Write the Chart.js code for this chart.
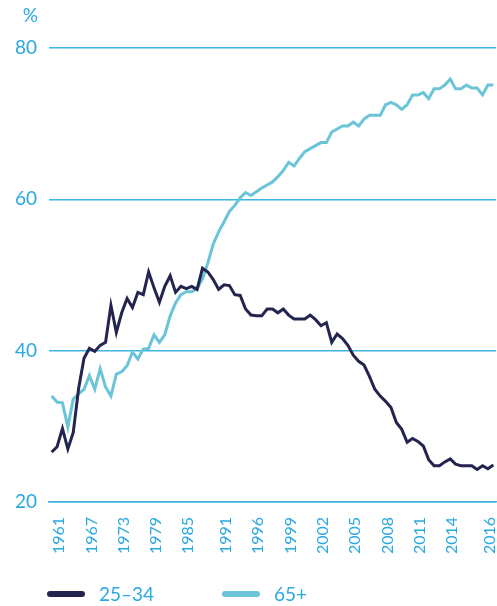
<!DOCTYPE html>
<html>
<head>
<meta charset="utf-8">
<script src="https://cdn.jsdelivr.net/npm/chart.js@4.4.0/dist/chart.umd.min.js"></script>
<style>
  html, body { margin: 0; padding: 0; background: #fff; }
  #wrap { position: relative; width: 497px; height: 606px; }
  #legend {
    position: absolute;
    left: 47px;
    top: 582px;
    display: flex;
    font-family: Lato, "Open Sans", sans-serif;
    font-size: 19px;
    line-height: 24px;
    color: #2aa9e0;
  }
  .legend-item { display: flex; align-items: center; width: 175px; }
  .swatch { width: 38px; height: 6px; border-radius: 3px; margin-right: 14px; }
</style>
</head>
<body>
<div id="wrap">
  <canvas id="chart" width="497" height="606"></canvas>
  <div id="legend"></div>
</div>
<script>
const TEXT_BLUE = "#2aa9e0";
const GRID_BLUE = "#3cb4e4";
const FONT = "Lato, 'Open Sans', sans-serif";

const xLabels = [
  "", "1961", "", "", "", "", "",
  "1967", "", "", "", "", "",
  "1973", "", "", "", "", "",
  "1979", "", "", "", "", "",
  "1985", "", "", "", "", "", "",
  "1991", "", "", "", "", "",
  "1996", "", "", "", "", "",
  "1999", "", "", "", "", "",
  "2002", "", "", "", "", "",
  "2005", "", "", "", "", "",
  "2008", "", "", "", "", "",
  "2011", "", "", "", "", "",
  "2014", "", "", "", "", "", "",
  "2016", "",
];

const yTicks = [20, 40, 60, 80];

const age25to34 = [
  26.6, 27.3, 29.7, 27.0, 29.2, 35.0, 39.0, 40.3, 39.9, 40.7,
  41.1, 46.0, 42.4, 45.0, 46.9, 45.7, 47.7, 47.4, 50.4, 48.3,
  46.4, 48.5, 49.9, 47.7, 48.5, 48.2, 48.5, 48.1, 50.9, 50.4,
  49.4, 48.1, 48.7, 48.6, 47.4, 47.3, 45.5, 44.7, 44.6, 44.6,
  45.5, 45.5, 45.0, 45.5, 44.7, 44.2, 44.2, 44.2, 44.7, 44.1,
  43.3, 43.7, 41.1, 42.2, 41.6, 40.7, 39.4, 38.6, 38.1, 36.6,
  34.9, 34.0, 33.3, 32.5, 30.5, 29.6, 27.9, 28.4, 28.0, 27.4,
  25.6, 24.8, 24.8, 25.3, 25.7, 25.0, 24.8, 24.8, 24.8, 24.3,
  24.8, 24.4, 24.9,
];

const age65plus = [
  34.0, 33.2, 33.1, 29.9, 33.6, 34.3, 34.9, 36.7, 34.9, 37.6,
  35.2, 34.0, 36.9, 37.2, 38.0, 39.8, 38.9, 40.2, 40.3, 42.1,
  41.1, 42.1, 44.6, 46.3, 47.4, 47.8, 47.8, 48.2, 49.5, 51.6,
  54.1, 55.7, 57.0, 58.4, 59.2, 60.2, 60.9, 60.5, 61.0, 61.5,
  61.9, 62.3, 63.0, 63.8, 64.9, 64.4, 65.4, 66.3, 66.7, 67.1,
  67.5, 67.5, 68.9, 69.3, 69.7, 69.7, 70.2, 69.7, 70.6, 71.1,
  71.1, 71.1, 72.5, 72.8, 72.5, 71.9, 72.5, 73.8, 73.8, 74.1,
  73.3, 74.6, 74.6, 75.1, 75.9, 74.6, 74.6, 75.1, 74.7, 74.7,
  73.8, 75.1, 75.1,
];

const series = [
  { label: "25\u201334", data: age25to34, color: "#23244f" },
  { label: "65+", data: age65plus, color: "#6bc4d7" },
];

// "%" unit sitting above the y tick labels
const unitLabel = {
  id: "unitLabel",
  afterDraw(chart) {
    const { ctx, scales } = chart;
    const y = scales.y;
    ctx.save();
    ctx.font = `19px ${FONT}`;
    ctx.fillStyle = TEXT_BLUE;
    ctx.textAlign = "right";
    ctx.textBaseline = "middle";
    ctx.fillText("%", y.right - 11, 16);
    ctx.restore();
  },
};

new Chart(document.getElementById("chart"), {
  type: "line",
  data: {
    labels: xLabels,
    datasets: series.map((s) => ({
      label: s.label,
      data: s.data,
      borderColor: s.color,
      backgroundColor: s.color,
      borderWidth: 3,
      pointRadius: 0,
      tension: 0,
      fill: false,
    })),
  },
  options: {
    responsive: false,
    animation: false,
    devicePixelRatio: 1,
    layout: { padding: { left: 15, right: 1, top: 48, bottom: 44 } },
    plugins: {
      legend: { display: false },
      tooltip: { enabled: false },
    },
    scales: {
      x: {
        offset: true,
        grid: { display: false },
        border: { display: true, color: GRID_BLUE, width: 1.5 },
        ticks: {
          autoSkip: false,
          minRotation: 90,
          maxRotation: 90,
          padding: 7,
          labelOffset: 2,
          color: TEXT_BLUE,
          font: { family: FONT, size: 16 },
        },
        afterFit(scale) {
          scale.height = 60;
          scale.paddingLeft = 0;
          scale.paddingRight = 0;
        },
      },
      y: {
        min: 20,
        max: 80,
        afterBuildTicks(scale) {
          scale.ticks = yTicks.map((v) => ({ value: v }));
        },
        afterFit(scale) {
          scale.width = 34;
        },
        grid: { color: GRID_BLUE, lineWidth: 1.5, drawTicks: false },
        border: { display: false },
        ticks: {
          padding: 12,
          color: TEXT_BLUE,
          font: { family: FONT, size: 19 },
        },
      },
    },
  },
  plugins: [unitLabel],
});

document.getElementById("legend").innerHTML = series
  .map(
    (s) => `
    <div class="legend-item">
      <span class="swatch" style="background:${s.color}"></span>
      <span>${s.label}</span>
    </div>`
  )
  .join("");
</script>
</body>
</html>
